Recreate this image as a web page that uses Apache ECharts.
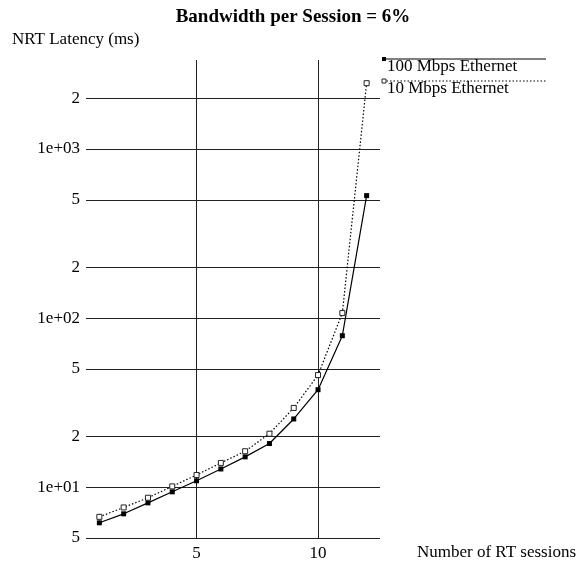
<!DOCTYPE html>
<html>
<head>
<meta charset="utf-8">
<script src="https://cdn.jsdelivr.net/npm/echarts@6/dist/echarts.min.js"></script>
<style>
  html, body { margin: 0; padding: 0; background: #fff; }
  #chart { width: 586px; height: 571px; }
</style>
</head>
<body>
<div id="chart"></div>
<script>
// data
var sessions = [1, 2, 3, 4, 5, 6, 7, 8, 9, 10, 11, 12];
var eth100 = [6.15, 6.95, 8.07, 9.38, 10.9, 12.8, 15.1, 18.1, 25.3, 37.7, 78.6, 530];
var eth10 = [6.67, 7.58, 8.65, 10.1, 11.8, 13.9, 16.3, 20.7, 29.4, 46, 107, 2450];

// tick values and labels
var xTicks = [5, 10];
var yTicks = [5, 10, 20, 50, 100, 200, 500, 1000, 2000];
var yTickLabels = ['5', '1e+01', '2', '5', '1e+02', '2', '5', '1e+03', '2'];

var FONT = 'Liberation Serif';

// grid lines drawn as mark lines
var gridLines = [];
yTicks.forEach(function (v) { gridLines.push({ yAxis: v }); });
xTicks.forEach(function (v) { gridLines.push({ xAxis: v }); });

var options = {
  animation: false,
  backgroundColor: '#fff',
  title: {
    text: 'Bandwidth per Session = 6%',
    left: 'center',
    top: 3,
    textStyle: { fontFamily: FONT, fontSize: 19, fontWeight: 'bold', color: '#000' }
  },
  grid: { left: 86, right: 206, top: 60, bottom: 33 },
  xAxis: {
    type: 'value',
    min: 0.45,
    max: 12.55,
    name: 'Number of RT sessions',
    nameLocation: 'end',
    nameGap: 37,
    nameTextStyle: { fontFamily: FONT, fontSize: 17, color: '#000', verticalAlign: 'top', padding: [6, 0, 0, 0] },
    axisLine: { show: false },
    axisTick: { show: false },
    splitLine: { show: false },
    axisLabel: {
      customValues: xTicks,
      margin: 7,
      fontFamily: FONT, fontSize: 17, color: '#000'
    }
  },
  yAxis: {
    type: 'log',
    logBase: 10,
    min: 5,
    max: 3360,
    axisLine: { show: false },
    axisTick: { show: false },
    splitLine: { show: false },
    axisLabel: {
      customValues: yTicks,
      margin: 6,
      fontFamily: FONT, fontSize: 17, color: '#000',
      formatter: function (v) {
        var i = yTicks.indexOf(v);
        return i >= 0 ? yTickLabels[i] : '';
      }
    }
  },
  graphic: [
    { type: 'text', left: 12, top: 31, style: { text: 'NRT Latency (ms)', font: '17px "Liberation Serif"', fill: '#000' } },
    { type: 'line', shape: { x1: 383, y1: 59, x2: 546, y2: 59 }, style: { stroke: '#000', lineWidth: 1.2 } },
    { type: 'rect', shape: { x: 382, y: 57, width: 4, height: 4 }, style: { fill: '#000' } },
    { type: 'text', left: 387, top: 58, style: { text: '100 Mbps Ethernet', font: '17px "Liberation Serif"', fill: '#000' } },
    { type: 'line', shape: { x1: 383, y1: 81, x2: 546, y2: 81 }, style: { stroke: '#000', lineWidth: 1.2, lineDash: [1.5, 2] } },
    { type: 'rect', shape: { x: 382, y: 79, width: 4, height: 4 }, style: { fill: '#fff', stroke: '#222', lineWidth: 1 } },
    { type: 'text', left: 387, top: 80, style: { text: '10 Mbps Ethernet', font: '17px "Liberation Serif"', fill: '#000' } }
  ],
  series: [
    {
      name: '100 Mbps Ethernet',
      type: 'line',
      data: sessions.map(function (x, i) { return [x, eth100[i]]; }),
      symbol: 'rect',
      symbolSize: 5,
      itemStyle: { color: '#000' },
      lineStyle: { color: '#000', width: 1.2, type: 'solid' },
      z: 3,
      markLine: {
        silent: true,
        symbol: 'none',
        label: { show: false },
        lineStyle: { color: '#222', width: 1, type: 'solid' },
        emphasis: { disabled: true },
        data: gridLines,
        z: 1
      }
    },
    {
      name: '10 Mbps Ethernet',
      type: 'line',
      data: sessions.map(function (x, i) { return [x, eth10[i]]; }),
      symbol: 'rect',
      symbolSize: 5,
      itemStyle: { color: '#fff', borderColor: '#222', borderWidth: 1 },
      lineStyle: { color: '#000', width: 1.2, type: [1.5, 2] },
      z: 3
    }
  ]
};

var instance = echarts.init(document.getElementById('chart'));
instance.setOption(options);
</script>
</body>
</html>
